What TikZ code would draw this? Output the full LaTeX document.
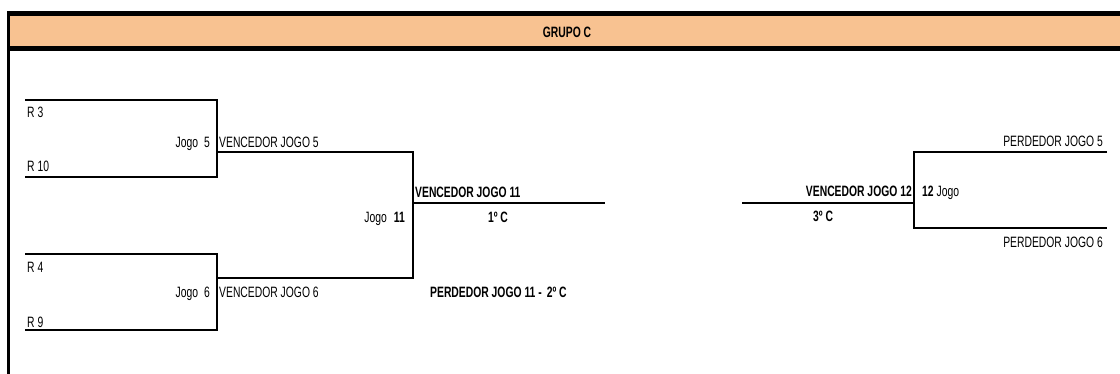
\documentclass[tikz,border=0pt]{standalone}
\usepackage{fontspec}
\setmainfont[FakeStretch=0.69]{Liberation Sans}
\usetikzlibrary{positioning}
\definecolor{grupo}{RGB}{248,194,145}
\tikzset{
  txt/.style={inner sep=0pt, font=\fontsize{15}{15}\selectfont},
  negrito/.style={txt, font=\fontsize{15}{15}\selectfont\bfseries},
  chave/.style={line width=2pt},
}

\begin{document}
\begin{tikzpicture}[x=1pt,y=-1pt]
    \useasboundingbox (0,0) rectangle (1120,374);

    % cabecalho
    \fill[grupo] (8,13.5) rectangle (1120,48.5);
    \draw[line width=5pt] (8,13.5) -- (1120,13.5);
    \draw[line width=5pt] (8,48.5) -- (1120,48.5);
    \draw[line width=3pt] (8,11) -- (8,374);
    \node[negrito,anchor=base] (titulo) at (567,38) {GRUPO C};

    % jogos 5 e 6
    \coordinate (r3) at (25,100);
    \coordinate (r10) at (25,177);
    \coordinate (r4) at (25,254);
    \coordinate (r9) at (25,330);
    \coordinate (j5t) at (217,100);
    \coordinate (j5b) at (217,177);
    \coordinate (j6t) at (217,254);
    \coordinate (j6b) at (217,330);
    \draw[chave] (r3) -- (j5t) -- (j5b) -- (r10);
    \draw[chave] (r4) -- (j6t) -- (j6b) -- (r9);

    \node[txt,anchor=base west] (tr3) at (27,118) {R 3};
    \node[txt,anchor=base west] (tr10) at (27,172) {R 10};
    \node[txt,anchor=base west] (tr4) at (27,273) {R 4};
    \node[txt,anchor=base west] (tr9) at (27,327) {R 9};
    \node[txt,anchor=base east] (jogo5) at (210,148) {Jogo\hspace{6pt}5};
    \node[txt,anchor=base east] (jogo6) at (210,298) {Jogo\hspace{6pt}6};

    % jogo 11
    \coordinate (v5) at (217,152);
    \coordinate (v6) at (217,278);
    \coordinate (j11t) at (413,152);
    \coordinate (j11b) at (413,278);
    \coordinate (j11m) at (413,203);
    \coordinate (c1) at (605,203);
    \draw[chave] (v5) -- (j11t) -- (j11b) -- (v6);
    \draw[chave] (j11m) -- (c1);

    \node[txt,anchor=base west] (tv5) at (219,148) {VENCEDOR JOGO 5};
    \node[txt,anchor=base west] (tv6) at (219,298) {VENCEDOR JOGO 6};
    \node[txt,anchor=base east] (jogo11) at (405,223) {Jogo\hspace{7pt}\textbf{11}};
    \node[negrito,anchor=base west] (tv11) at (415,198) {VENCEDOR JOGO 11};
    \node[negrito,anchor=base] (prim) at (498,223) {1º C};
    \node[negrito,anchor=base west] (tp11) at (430,298) {PERDEDOR JOGO 11 -\hspace{5pt}2º C};

    % jogo 12
    \coordinate (c3) at (742,203);
    \coordinate (j12m) at (914,203);
    \coordinate (j12t) at (914,152);
    \coordinate (j12b) at (914,228);
    \coordinate (p5) at (1107,152);
    \coordinate (p6) at (1107,228);
    \draw[chave] (c3) -- (j12m);
    \draw[chave] (p5) -- (j12t) -- (j12b) -- (p6);

    \node[negrito,anchor=base east] (tv12) at (912,197) {VENCEDOR JOGO 12};
    \node[txt,anchor=base west] (jogo12) at (922,197) {\textbf{12} Jogo};
    \node[negrito,anchor=base west] (terc) at (813,222) {3º C};
    \node[txt,anchor=base east] (tp5) at (1103,147) {PERDEDOR JOGO 5};
    \node[txt,anchor=base east] (tp6) at (1103,248) {PERDEDOR JOGO 6};
\end{tikzpicture}
\end{document}
